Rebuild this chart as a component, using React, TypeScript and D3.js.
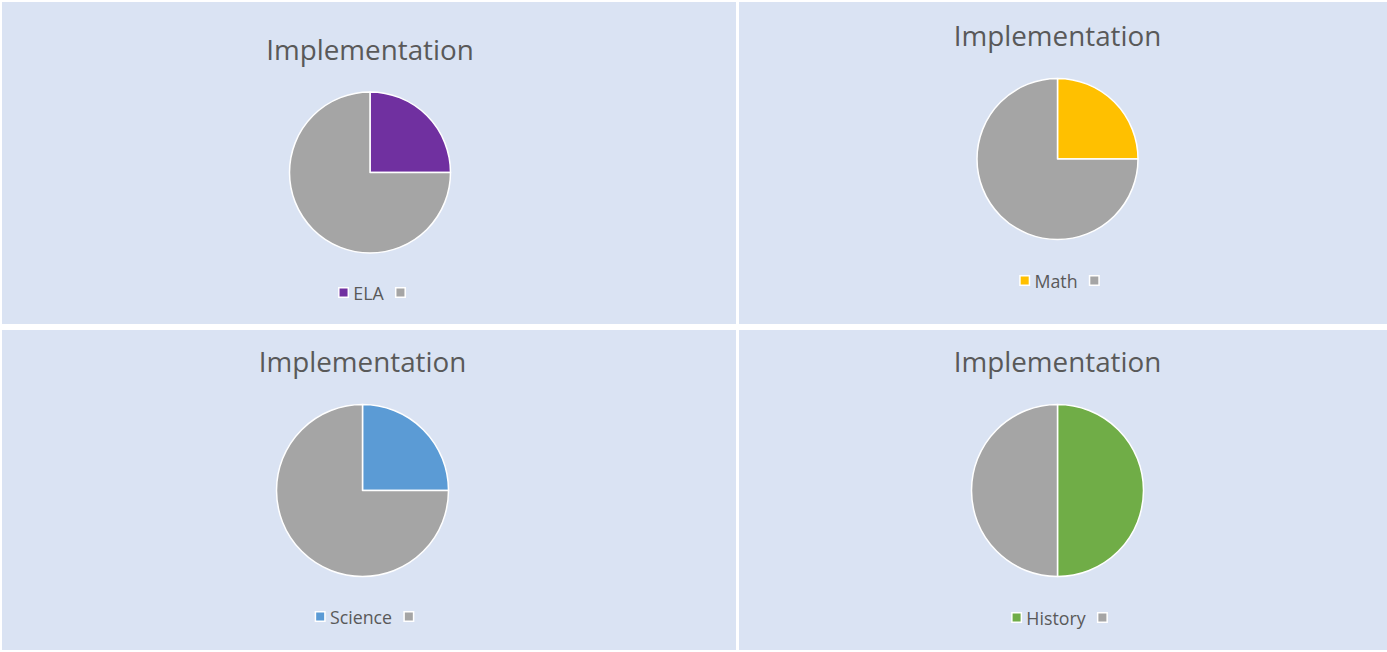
import * as d3 from "d3";
import { useEffect, useRef } from "react";

// chart data
const subjects = ["ELA", "Math", "Science", "History"];
const implemented = [25, 25, 25, 50];
const remaining = [75, 75, 75, 50];
const subjectColors = ["#7030a0", "#ffc000", "#5b9bd5", "#70ad47"];
const chartTitle = "Implementation";

// panel layout (x, y, w, h) plus pie placement
const panels = [
  { x: 2, y: 2, w: 734, h: 322, cx: 370, cy: 172.5, r: 80.5, titleY: 60, legendY: 292.5 },
  { x: 739, y: 2, w: 648, h: 322, cx: 1057.5, cy: 159, r: 80.5, titleY: 46, legendY: 280.5 },
  { x: 2, y: 330, w: 734, h: 320, cx: 362.5, cy: 490.5, r: 86, titleY: 372, legendY: 616.5 },
  { x: 739, y: 330, w: 648, h: 320, cx: 1057.5, cy: 490.5, r: 86, titleY: 372, legendY: 617.5 },
];

const W = 1387;
const H = 652;
const font = "'Open Sans', 'Segoe UI', sans-serif";

export default function App() {
  const ref = useRef<SVGSVGElement>(null);

  useEffect(() => {
    const svg = d3.select(ref.current);
    svg.selectAll("*").remove();

    svg.append("rect").attr("width", W).attr("height", H).attr("fill", "#ffffff");

    const pie = d3
      .pie<number>()
      .sort(null)
      .value((d) => d);

    subjects.forEach((name, i) => {
      const p = panels[i];
      const g = svg.append("g");

      g.append("rect")
        .attr("x", p.x)
        .attr("y", p.y)
        .attr("width", p.w)
        .attr("height", p.h)
        .attr("fill", "#dae3f3");

      g.append("text")
        .attr("x", p.cx)
        .attr("y", p.titleY)
        .attr("text-anchor", "middle")
        .attr("font-family", font)
        .attr("font-size", 27.8)
        .attr("fill", "#595959")
        .text(chartTitle);

      const arc = d3.arc<d3.PieArcDatum<number>>().innerRadius(0).outerRadius(p.r);
      const colors = [subjectColors[i], "#a5a5a5"];

      g.append("g")
        .attr("transform", `translate(${p.cx},${p.cy})`)
        .selectAll("path")
        .data(pie([implemented[i], remaining[i]]))
        .join("path")
        .attr("d", arc)
        .attr("fill", (_, j) => colors[j])
        .attr("stroke", "#ffffff")
        .attr("stroke-width", 1.5)
        .attr("stroke-linejoin", "round");

      // legend: coloured box, label, grey box for the unnamed slice
      const leg = g.append("g");
      const box = 9.5;
      const label = leg
        .append("text")
        .attr("font-family", font)
        .attr("font-size", 17.8)
        .attr("fill", "#595959")
        .attr("dominant-baseline", "central")
        .text(name);
      const tw = (label.node() as SVGTextElement).getComputedTextLength();
      const total = box + 5 + tw + 12 + box;
      const x0 = p.cx + 2 - total / 2;

      leg.append("rect")
        .attr("x", x0)
        .attr("y", p.legendY - box / 2)
        .attr("width", box)
        .attr("height", box)
        .attr("fill", colors[0])
        .attr("stroke", "#ffffff")
        .attr("stroke-width", 1.5);
      label.attr("x", x0 + box + 5).attr("y", p.legendY);
      leg.append("rect")
        .attr("x", x0 + box + 5 + tw + 12)
        .attr("y", p.legendY - box / 2)
        .attr("width", box)
        .attr("height", box)
        .attr("fill", colors[1])
        .attr("stroke", "#ffffff")
        .attr("stroke-width", 1.5);
    });
  }, []);

  return (
    <svg
      ref={ref}
      width={W}
      height={H}
      style={{ display: "block", position: "absolute", left: 0, top: 0 }}
    />
  );
}
